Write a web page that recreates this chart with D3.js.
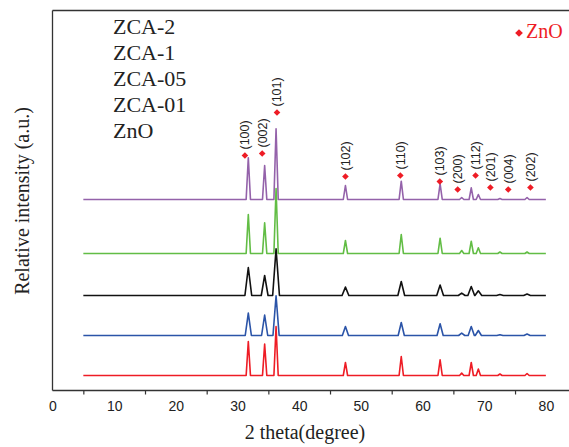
<!DOCTYPE html>
<html>
<head>
<meta charset="utf-8">
<script src="https://cdn.jsdelivr.net/npm/d3@7"></script>
<style>
  html, body { margin: 0; padding: 0; background: #fff; }
  svg { display: block; }
</style>
</head>
<body>
<svg id="chart" width="569" height="447"></svg>
<script>
// ---------- data ----------
const seriesNames = ["ZCA-2", "ZCA-1", "ZCA-05", "ZCA-01", "ZnO"];
const seriesColors = ["#9462aa", "#62bd45", "#111111", "#2b54a8", "#ee1c25"];
const seriesOffsets = [191, 137, 95, 55, 15];           // vertical stacking offsets (a.u.)
const peakWidths = [0.35, 0.35, 0.55, 0.5, 0.35];       // half-width at base (deg)
const peakLabels = ["(100)", "(002)", "(101)", "(102)", "(110)", "(103)", "(200)", "(112)", "(201)", "(004)", "(202)"];
const peakPos = [31.75, 34.4, 36.25, 47.5, 56.55, 62.85, 66.35, 67.9, 69.05, 72.55, 76.95];
const heightsZCA2  = [41.7, 34, 70.7, 14, 18.3, 15.7, 2, 11.7, 5, 1, 2];
const heightsZCA1  = [39, 30.7, 65, 13, 19, 15.3, 3, 12.3, 5.7, 1.5, 1.5];
const heightsZCA05 = [28, 20, 46.7, 8.4, 14, 10.4, 2.4, 9, 4.7, 1, 1.5];
const heightsZCA01 = [22.4, 20.4, 39.7, 9, 13, 11.7, 2.4, 9, 5, 0.8, 1.5];
const heightsZnO   = [34, 31.4, 49, 13, 19, 15.7, 2.4, 13, 6.4, 1.5, 2];
const seriesHeights = [heightsZCA2, heightsZCA1, heightsZCA05, heightsZCA01, heightsZnO];
const scanRange = [5, 80];
// annotation markers (diamond positions)
const markX = [31.2, 34.0, 36.4, 47.5, 56.4, 62.8, 65.7, 68.6, 71.0, 73.9, 77.5];
const markY = [235, 237, 278, 214, 215, 209, 201, 215, 203, 201, 203];
const xTickLabels = [0, 10, 20, 30, 40, 50, 60, 70, 80];
const xTickMarks = [5, 15, 25, 35, 45, 55, 65, 75];

// ---------- layout ----------
const svg = d3.select("#chart");
const mLeft = 52.5, mTop = 10.5, mBottom = 390.5, mRight = 569;
const x = d3.scaleLinear().domain([0, 83.75]).range([mLeft, mRight]);
const y = d3.scaleLinear().domain([0, 380]).range([mBottom, mTop]);

// frame
svg.append("line").attr("x1", mLeft).attr("x2", mRight).attr("y1", mTop).attr("y2", mTop)
  .attr("stroke", "#333").attr("stroke-width", 1.3);
svg.append("line").attr("x1", mLeft).attr("x2", mLeft).attr("y1", mTop).attr("y2", mBottom)
  .attr("stroke", "#333").attr("stroke-width", 1.3);

// x axis: labels
const axLab = svg.append("g").attr("transform", `translate(0,${mBottom})`)
  .call(d3.axisBottom(x).tickValues(xTickLabels).tickSize(0).tickPadding(11).tickFormat(d3.format("d")));
axLab.select(".domain").attr("stroke", "#333").attr("stroke-width", 1.3).attr("d", `M${mLeft},0H${mRight}`);
axLab.selectAll("text").attr("font-family", "Liberation Sans, Arial, sans-serif").attr("font-size", 14).attr("fill", "#222");
// x axis: tick marks
const axTick = svg.append("g").attr("transform", `translate(0,${mBottom})`)
  .call(d3.axisBottom(x).tickValues(xTickMarks).tickSize(4).tickFormat(""));
axTick.select(".domain").remove();
axTick.selectAll("line").attr("stroke", "#333").attr("stroke-width", 1.2);

// axis titles
svg.append("text").attr("x", 305).attr("y", 439).attr("text-anchor", "middle")
  .attr("font-family", "Liberation Serif, Times New Roman, serif").attr("font-size", 20).attr("fill", "#222")
  .text("2 theta(degree)");
svg.append("text").attr("transform", "translate(29,201) rotate(-90)").attr("text-anchor", "middle")
  .attr("font-family", "Liberation Serif, Times New Roman, serif").attr("font-size", 20).attr("fill", "#222")
  .text("Relative intensity (a.u.)");

// traces
const line = d3.line().x(d => x(d[0])).y(d => y(d[1]));
seriesNames.forEach((name, i) => {
  const off = seriesOffsets[i], w = peakWidths[i], hs = seriesHeights[i];
  const pts = [[scanRange[0], off]];
  peakPos.forEach((p, k) => {
    pts.push([p - w, off], [p, off + hs[k]], [p + w, off]);
  });
  pts.push([scanRange[1], off]);
  svg.append("path").attr("d", line(pts)).attr("fill", "none")
    .attr("stroke", seriesColors[i]).attr("stroke-width", 1.6).attr("stroke-linejoin", "round");
});

// legend (text only)
seriesNames.forEach((name, i) => {
  svg.append("text").attr("x", 113).attr("y", 34 + i * 26)
    .attr("font-family", "Liberation Serif, Times New Roman, serif").attr("font-size", 22).attr("fill", "#222")
    .text(name);
});

// peak markers and labels
const diamond = d3.symbol().type(d3.symbolSquare).size(22);
peakLabels.forEach((lab, k) => {
  const cx = x(markX[k]), cy = y(markY[k]);
  svg.append("path").attr("d", diamond()).attr("fill", "#ee1c25")
    .attr("transform", `translate(${cx},${cy}) rotate(45)`);
  svg.append("text").attr("transform", `translate(${cx + 0.5},${cy - 6}) rotate(-90)`)
    .attr("dominant-baseline", "central")
    .attr("font-family", "Liberation Sans, Arial, sans-serif").attr("font-size", 12.5).attr("fill", "#222")
    .text(lab);
});

// ZnO marker legend
svg.append("path").attr("d", d3.symbol().type(d3.symbolSquare).size(30)()).attr("fill", "#ee1c25")
  .attr("transform", "translate(519,33) rotate(45)");
svg.append("text").attr("x", 526).attr("y", 38)
  .attr("font-family", "Liberation Serif, Times New Roman, serif").attr("font-size", 20).attr("fill", "#ee1c25")
  .text("ZnO");
</script>
</body>
</html>
